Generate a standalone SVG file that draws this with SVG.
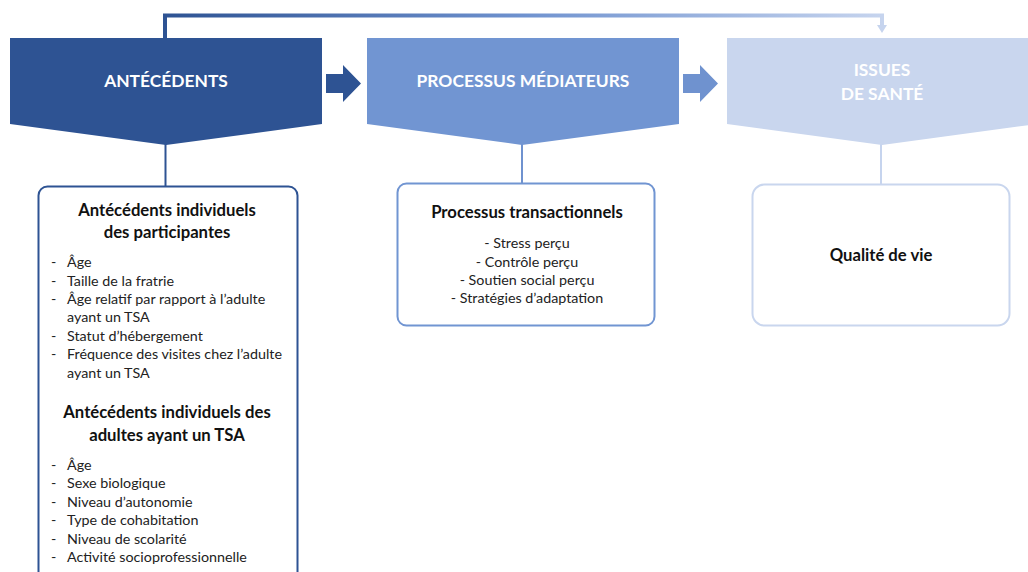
<svg xmlns="http://www.w3.org/2000/svg" width="1028" height="572" viewBox="0 0 1028 572">
<defs>
<style>
.hdr{font-family:Lato,"Open Sans",sans-serif;font-weight:700;font-size:17.4px;fill:#fff;text-anchor:middle}
.ttl{font-family:Lato,"Open Sans",sans-serif;font-weight:700;font-size:16.7px;fill:#111;text-anchor:middle}
.it{font-family:Lato,"Open Sans",sans-serif;font-size:14.3px;fill:#222}
.itc{font-family:Lato,"Open Sans",sans-serif;font-size:14.3px;fill:#222;text-anchor:middle}
</style>
<linearGradient id="topg" x1="165" y1="0" x2="882" y2="0" gradientUnits="userSpaceOnUse">
<stop offset="0" stop-color="#2E5393"/>
<stop offset="0.5" stop-color="#6F92CF"/>
<stop offset="1" stop-color="#C6D4EE"/>
</linearGradient>
</defs>
<rect width="1028" height="572" fill="#fff"/>
<g id="connectors">
<path d="M165,40 V15.5 H882 V27" fill="none" stroke="url(#topg)" stroke-width="4"/>
<path d="M877,25 L887,25 L882,33 Z" fill="#C6D4EE"/>
<line x1="165.5" y1="144" x2="165.5" y2="187" stroke="#2E5393" stroke-width="2"/>
<line x1="522" y1="144" x2="522" y2="184" stroke="#6F92CF" stroke-width="2"/>
<line x1="881" y1="144" x2="881" y2="185" stroke="#C6D4EE" stroke-width="2"/>
<path d="M326,74 H343 V65 L361,83.5 L343,102 V93 H326 Z" fill="#2E5393"/>
<path d="M683,74 H700 V65 L718,83.5 L700,102 V93 H683 Z" fill="#6F92CF"/>
</g>
<g id="antecedents">
<path d="M10,38 H322 V124 L166,145 L10,124 Z" fill="#2E5393"/>
<text class="hdr" x="166" y="87">ANTÉCÉDENTS</text>
</g>
<g id="processus">
<path d="M367,38 H679 V124 L522,145 L367,124 Z" fill="#7195D2"/>
<text class="hdr" x="523" y="87">PROCESSUS MÉDIATEURS</text>
</g>
<g id="issues">
<path d="M727,38 H1037 V124 L882,145 L727,124 Z" fill="#C9D6EE"/>
<text class="hdr" x="882" y="76">ISSUES</text>
<text class="hdr" x="882" y="100">DE SANTÉ</text>
</g>
<g id="box-antecedents">
<rect x="38.5" y="186.5" width="259" height="400" rx="9" fill="#fff" stroke="#2E5393" stroke-width="2"/>
<text class="ttl" x="167" y="216">Antécédents individuels</text>
<text class="ttl" x="167" y="238">des participantes</text>
<g class="it">
<text x="51" y="267">-</text><text x="67" y="267">Âge</text>
<text x="51" y="286">-</text><text x="67" y="286">Taille de la fratrie</text>
<text x="51" y="304">-</text><text x="67" y="304">Âge relatif par rapport à l’adulte</text>
<text x="67" y="322">ayant un TSA</text>
<text x="51" y="341">-</text><text x="67" y="341">Statut d’hébergement</text>
<text x="51" y="359">-</text><text x="67" y="359">Fréquence des visites chez l’adulte</text>
<text x="67" y="378">ayant un TSA</text>
</g>
<text class="ttl" x="167" y="418">Antécédents individuels des</text>
<text class="ttl" x="167" y="441">adultes ayant un TSA</text>
<g class="it">
<text x="51" y="470">-</text><text x="67" y="470">Âge</text>
<text x="51" y="488">-</text><text x="67" y="488">Sexe biologique</text>
<text x="51" y="507">-</text><text x="67" y="507">Niveau d’autonomie</text>
<text x="51" y="525">-</text><text x="67" y="525">Type de cohabitation</text>
<text x="51" y="544">-</text><text x="67" y="544">Niveau de scolarité</text>
<text x="51" y="562">-</text><text x="67" y="562">Activité socioprofessionnelle</text>
</g>
</g>
<g id="box-processus">
<rect x="397.5" y="183.5" width="257" height="142" rx="9" fill="#fff" stroke="#7195D2" stroke-width="2"/>
<text class="ttl" x="527" y="218">Processus transactionnels</text>
<text class="itc" x="527" y="248">- Stress perçu</text>
<text class="itc" x="527" y="267">- Contrôle perçu</text>
<text class="itc" x="527" y="285">- Soutien social perçu</text>
<text class="itc" x="527" y="303">- Stratégies d’adaptation</text>
</g>
<g id="box-issues">
<rect x="752.5" y="184.5" width="257" height="141" rx="12" fill="#fff" stroke="#C9D6EE" stroke-width="2"/>
<text class="ttl" x="881" y="261">Qualité de vie</text>
</g>
</svg>
